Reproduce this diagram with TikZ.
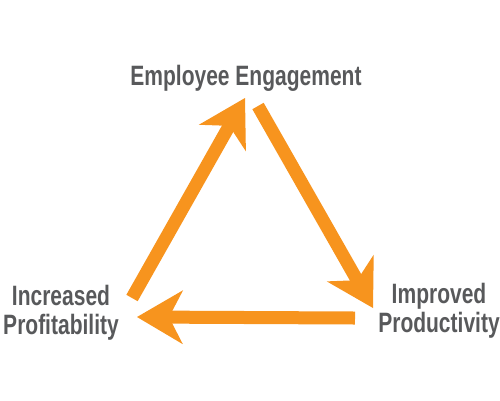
\documentclass[tikz,border=0pt]{standalone}
\usepackage{fontspec}
\setmainfont{Liberation Sans}[FakeStretch=0.75]
\usetikzlibrary{arrows.meta}
\definecolor{cycleorange}{RGB}{247,148,30}
\definecolor{labelgray}{RGB}{88,89,91}

\begin{document}
\begin{tikzpicture}[
    x=1pt, y=-1pt,
    stage/.style={text=labelgray, font=\bfseries\fontsize{28}{29}\selectfont, align=center, inner sep=0pt},
    flow/.style={draw=cycleorange, line width=13pt, -{Stealth[length=46pt,width=54pt,inset=14pt,line width=0pt,fill=cycleorange]}}
    ]
    \useasboundingbox (0,0) rectangle (500,400);
    \node[stage, anchor=base] (engage) at (246,85) {Employee Engagement};
    \node[stage] (produce) at (439,311) {Improved\\Productivity};
    \node[stage] (profit) at (61,313) {Increased\\Profitability};
    \coordinate (a1) at (132,298);
    \coordinate (a2) at (245,98);
    \coordinate (b1) at (258,106);
    \coordinate (b2) at (373,308);
    \coordinate (c1) at (355,318);
    \coordinate (c2) at (137,317);
    \draw[flow] (a1) -- (a2);
    \draw[flow] (b1) -- (b2);
    \draw[flow] (c1) -- (c2);
\end{tikzpicture}
\end{document}
